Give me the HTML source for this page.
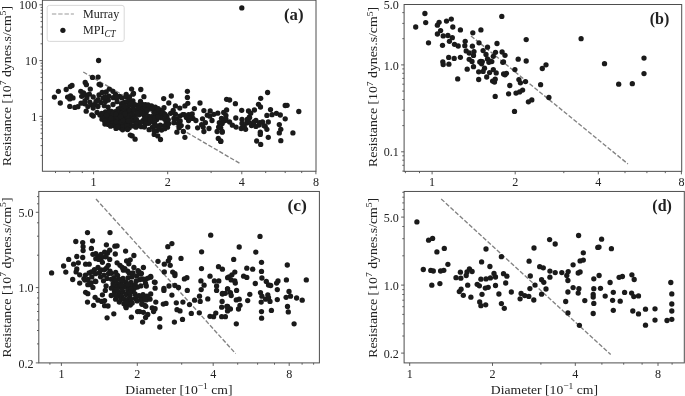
<!DOCTYPE html><html><head><meta charset="utf-8"><title>Resistance vs diameter</title>
<style>html,body{margin:0;padding:0;background:#fff}svg{display:block}text{font-family:"Liberation Serif",serif;fill:#222}</style></head><body>
<svg width="685" height="396" viewBox="0 0 685 396">
<rect width="685" height="396" fill="#fff"/>
<g id="panel-a">
<line x1="83.3" y1="72.0" x2="240.2" y2="163.6" stroke="#828282" stroke-width="1.35" stroke-dasharray="4.4,1.9"/>
<g fill="#1a1a1a"><circle cx="249.6" cy="117.6" r="2.65"/><circle cx="246.7" cy="122.9" r="2.65"/><circle cx="258.9" cy="125.1" r="2.65"/><circle cx="243.8" cy="126.5" r="2.65"/><circle cx="265.2" cy="126.3" r="2.65"/><circle cx="253.9" cy="122.0" r="2.65"/><circle cx="247.2" cy="119.5" r="2.65"/><circle cx="241.8" cy="7.9" r="2.65"/><circle cx="98.6" cy="60.5" r="2.65"/><circle cx="54.4" cy="97.1" r="2.65"/><circle cx="58.4" cy="91.3" r="2.65"/><circle cx="60.3" cy="103.0" r="2.65"/><circle cx="66.2" cy="89.5" r="2.65"/><circle cx="70.3" cy="86.6" r="2.65"/><circle cx="72.0" cy="85.4" r="2.65"/><circle cx="67.6" cy="97.1" r="2.65"/><circle cx="70.5" cy="96.0" r="2.65"/><circle cx="73.0" cy="97.9" r="2.65"/><circle cx="69.8" cy="98.9" r="2.65"/><circle cx="69.8" cy="106.4" r="2.65"/><circle cx="74.9" cy="107.4" r="2.65"/><circle cx="77.9" cy="106.7" r="2.65"/><circle cx="80.8" cy="91.3" r="2.65"/><circle cx="85.2" cy="82.5" r="2.65"/><circle cx="86.4" cy="84.7" r="2.65"/><circle cx="90.3" cy="89.1" r="2.65"/><circle cx="92.5" cy="77.4" r="2.65"/><circle cx="98.1" cy="77.1" r="2.65"/><circle cx="99.1" cy="84.3" r="2.65"/><circle cx="100.6" cy="85.1" r="2.65"/><circle cx="109.3" cy="89.1" r="2.65"/><circle cx="113.0" cy="91.3" r="2.65"/><circle cx="131.6" cy="89.1" r="2.65"/><circle cx="140.8" cy="89.5" r="2.65"/><circle cx="133.5" cy="93.5" r="2.65"/><circle cx="126.2" cy="94.5" r="2.65"/><circle cx="119.6" cy="96.4" r="2.65"/><circle cx="121.8" cy="97.9" r="2.65"/><circle cx="132.9" cy="94.2" r="2.65"/><circle cx="143.9" cy="96.7" r="2.65"/><circle cx="140.5" cy="101.5" r="2.65"/><circle cx="132.9" cy="100.8" r="2.65"/><circle cx="163.7" cy="98.6" r="2.65"/><circle cx="171.3" cy="96.0" r="2.65"/><circle cx="168.8" cy="103.0" r="2.65"/><circle cx="164.0" cy="107.7" r="2.65"/><circle cx="187.4" cy="91.3" r="2.65"/><circle cx="187.4" cy="97.4" r="2.65"/><circle cx="187.8" cy="103.3" r="2.65"/><circle cx="184.9" cy="105.9" r="2.65"/><circle cx="200.0" cy="103.0" r="2.65"/><circle cx="194.4" cy="108.6" r="2.65"/><circle cx="203.9" cy="110.6" r="2.65"/><circle cx="210.2" cy="111.0" r="2.65"/><circle cx="226.6" cy="99.3" r="2.65"/><circle cx="229.6" cy="100.0" r="2.65"/><circle cx="226.6" cy="110.0" r="2.65"/><circle cx="223.7" cy="112.5" r="2.65"/><circle cx="217.8" cy="113.2" r="2.65"/><circle cx="175.4" cy="105.9" r="2.65"/><circle cx="179.8" cy="108.1" r="2.65"/><circle cx="173.2" cy="110.3" r="2.65"/><circle cx="175.4" cy="114.2" r="2.65"/><circle cx="182.7" cy="114.7" r="2.65"/><circle cx="188.6" cy="114.7" r="2.65"/><circle cx="192.2" cy="114.0" r="2.65"/><circle cx="173.9" cy="118.4" r="2.65"/><circle cx="193.0" cy="118.4" r="2.65"/><circle cx="202.5" cy="118.8" r="2.65"/><circle cx="209.8" cy="116.2" r="2.65"/><circle cx="213.8" cy="114.3" r="2.65"/><circle cx="225.9" cy="115.4" r="2.65"/><circle cx="212.0" cy="120.5" r="2.65"/><circle cx="205.4" cy="122.7" r="2.65"/><circle cx="203.2" cy="127.1" r="2.65"/><circle cx="197.6" cy="127.8" r="2.65"/><circle cx="209.0" cy="128.5" r="2.65"/><circle cx="203.9" cy="131.5" r="2.65"/><circle cx="195.9" cy="120.5" r="2.65"/><circle cx="191.5" cy="114.6" r="2.65"/><circle cx="188.6" cy="120.5" r="2.65"/><circle cx="187.8" cy="127.1" r="2.65"/><circle cx="183.4" cy="131.5" r="2.65"/><circle cx="184.9" cy="137.3" r="2.65"/><circle cx="176.9" cy="132.2" r="2.65"/><circle cx="173.9" cy="122.7" r="2.65"/><circle cx="178.3" cy="123.4" r="2.65"/><circle cx="181.2" cy="125.6" r="2.65"/><circle cx="179.0" cy="127.8" r="2.65"/><circle cx="176.9" cy="119.0" r="2.65"/><circle cx="179.8" cy="116.1" r="2.65"/><circle cx="184.2" cy="114.6" r="2.65"/><circle cx="186.4" cy="117.6" r="2.65"/><circle cx="221.5" cy="118.3" r="2.65"/><circle cx="225.2" cy="120.5" r="2.65"/><circle cx="219.3" cy="122.7" r="2.65"/><circle cx="218.6" cy="127.1" r="2.65"/><circle cx="217.1" cy="131.5" r="2.65"/><circle cx="222.2" cy="131.5" r="2.65"/><circle cx="218.3" cy="138.4" r="2.65"/><circle cx="220.8" cy="141.4" r="2.65"/><circle cx="229.6" cy="122.0" r="2.65"/><circle cx="132.2" cy="135.9" r="2.65"/><circle cx="135.1" cy="139.2" r="2.65"/><circle cx="154.2" cy="134.4" r="2.65"/><circle cx="157.8" cy="135.9" r="2.65"/><circle cx="160.5" cy="139.5" r="2.65"/><circle cx="130.3" cy="135.1" r="2.65"/><circle cx="235.4" cy="103.7" r="2.65"/><circle cx="267.6" cy="92.5" r="2.65"/><circle cx="260.7" cy="98.3" r="2.65"/><circle cx="258.5" cy="104.3" r="2.65"/><circle cx="260.5" cy="107.0" r="2.65"/><circle cx="285.2" cy="105.5" r="2.65"/><circle cx="287.1" cy="105.3" r="2.65"/><circle cx="298.8" cy="111.5" r="2.65"/><circle cx="270.5" cy="109.6" r="2.65"/><circle cx="254.4" cy="110.0" r="2.65"/><circle cx="248.5" cy="111.0" r="2.65"/><circle cx="250.7" cy="113.2" r="2.65"/><circle cx="241.7" cy="110.3" r="2.65"/><circle cx="266.9" cy="115.4" r="2.65"/><circle cx="272.0" cy="114.7" r="2.65"/><circle cx="276.4" cy="113.3" r="2.65"/><circle cx="280.3" cy="115.0" r="2.65"/><circle cx="285.2" cy="118.8" r="2.65"/><circle cx="235.8" cy="118.0" r="2.65"/><circle cx="249.3" cy="117.2" r="2.65"/><circle cx="225.9" cy="119.0" r="2.65"/><circle cx="222.9" cy="121.2" r="2.65"/><circle cx="242.0" cy="119.5" r="2.65"/><circle cx="242.0" cy="123.4" r="2.65"/><circle cx="248.5" cy="122.0" r="2.65"/><circle cx="255.9" cy="120.5" r="2.65"/><circle cx="259.5" cy="122.7" r="2.65"/><circle cx="268.3" cy="122.0" r="2.65"/><circle cx="262.5" cy="122.0" r="2.65"/><circle cx="263.9" cy="125.6" r="2.65"/><circle cx="266.9" cy="129.3" r="2.65"/><circle cx="279.3" cy="124.6" r="2.65"/><circle cx="280.8" cy="129.3" r="2.65"/><circle cx="279.3" cy="132.9" r="2.65"/><circle cx="292.9" cy="132.9" r="2.65"/><circle cx="280.8" cy="140.7" r="2.65"/><circle cx="268.3" cy="137.3" r="2.65"/><circle cx="256.6" cy="141.0" r="2.65"/><circle cx="260.7" cy="144.4" r="2.65"/><circle cx="260.3" cy="132.2" r="2.65"/><circle cx="260.3" cy="134.4" r="2.65"/><circle cx="232.4" cy="125.2" r="2.65"/><circle cx="236.1" cy="127.1" r="2.65"/><circle cx="241.2" cy="128.5" r="2.65"/><circle cx="245.6" cy="129.3" r="2.65"/><circle cx="244.2" cy="126.4" r="2.65"/><circle cx="251.5" cy="125.6" r="2.65"/><circle cx="255.9" cy="126.4" r="2.65"/><circle cx="253.0" cy="123.4" r="2.65"/><circle cx="222.2" cy="132.2" r="2.65"/><circle cx="220.7" cy="127.8" r="2.65"/><circle cx="220.7" cy="141.0" r="2.65"/><circle cx="222.2" cy="123.4" r="2.65"/><circle cx="180.2" cy="120.9" r="2.65"/><circle cx="190.3" cy="118.4" r="2.65"/><circle cx="207.3" cy="115.2" r="2.65"/><circle cx="201.6" cy="124.7" r="2.65"/><circle cx="166.9" cy="116.5" r="2.65"/><circle cx="166.3" cy="122.2" r="2.65"/><circle cx="167.5" cy="127.2" r="2.65"/><circle cx="170.7" cy="113.3" r="2.65"/><circle cx="86.2" cy="111.2" r="2.65"/><circle cx="91.8" cy="114.8" r="2.65"/><circle cx="93.3" cy="116.1" r="2.65"/><circle cx="102.0" cy="119.2" r="2.65"/><circle cx="104.9" cy="124.1" r="2.65"/><circle cx="83.5" cy="92.9" r="2.65"/><circle cx="85.6" cy="94.8" r="2.65"/><circle cx="81.7" cy="96.3" r="2.65"/><circle cx="84.9" cy="101.0" r="2.65"/><circle cx="81.0" cy="103.2" r="2.65"/><circle cx="84.7" cy="103.8" r="2.65"/><circle cx="87.9" cy="106.6" r="2.65"/><circle cx="86.9" cy="97.7" r="2.65"/><circle cx="89.3" cy="94.2" r="2.65"/><circle cx="93.2" cy="97.0" r="2.65"/><circle cx="91.7" cy="104.8" r="2.65"/><circle cx="94.9" cy="104.4" r="2.65"/><circle cx="93.2" cy="108.0" r="2.65"/><circle cx="97.9" cy="106.5" r="2.65"/><circle cx="97.1" cy="112.5" r="2.65"/><circle cx="99.0" cy="95.0" r="2.65"/><circle cx="102.2" cy="92.5" r="2.65"/><circle cx="106.2" cy="91.9" r="2.65"/><circle cx="103.1" cy="97.9" r="2.65"/><circle cx="105.4" cy="101.4" r="2.65"/><circle cx="100.7" cy="102.5" r="2.65"/><circle cx="104.3" cy="105.7" r="2.65"/><circle cx="108.2" cy="107.1" r="2.65"/><circle cx="108.9" cy="96.1" r="2.65"/><circle cx="113.2" cy="97.7" r="2.65"/><circle cx="108.3" cy="100.0" r="2.65"/><circle cx="113.0" cy="104.5" r="2.65"/><circle cx="115.5" cy="94.4" r="2.65"/><circle cx="117.1" cy="101.7" r="2.65"/><circle cx="121.5" cy="103.6" r="2.65"/><circle cx="124.3" cy="102.3" r="2.65"/><circle cx="127.0" cy="101.8" r="2.65"/><circle cx="128.5" cy="105.9" r="2.65"/><circle cx="118.2" cy="108.8" r="2.65"/><circle cx="121.6" cy="110.2" r="2.65"/><circle cx="126.1" cy="108.9" r="2.65"/><circle cx="115.3" cy="111.7" r="2.65"/><circle cx="111.3" cy="111.5" r="2.65"/><circle cx="108.6" cy="113.5" r="2.65"/><circle cx="104.1" cy="114.6" r="2.65"/><circle cx="99.9" cy="115.1" r="2.65"/><circle cx="107.8" cy="117.3" r="2.65"/><circle cx="110.9" cy="115.8" r="2.65"/><circle cx="114.3" cy="116.1" r="2.65"/><circle cx="118.4" cy="115.1" r="2.65"/><circle cx="122.9" cy="115.4" r="2.65"/><circle cx="127.6" cy="113.3" r="2.65"/><circle cx="110.2" cy="122.0" r="2.65"/><circle cx="113.4" cy="120.3" r="2.65"/><circle cx="118.4" cy="120.3" r="2.65"/><circle cx="121.1" cy="119.3" r="2.65"/><circle cx="125.7" cy="119.4" r="2.65"/><circle cx="128.6" cy="118.3" r="2.65"/><circle cx="112.9" cy="125.4" r="2.65"/><circle cx="116.0" cy="124.1" r="2.65"/><circle cx="119.2" cy="124.8" r="2.65"/><circle cx="123.3" cy="123.9" r="2.65"/><circle cx="127.1" cy="123.0" r="2.65"/><circle cx="108.2" cy="124.4" r="2.65"/><circle cx="116.0" cy="128.4" r="2.65"/><circle cx="120.3" cy="128.0" r="2.65"/><circle cx="125.6" cy="127.9" r="2.65"/><circle cx="129.7" cy="110.1" r="2.65"/><circle cx="130.2" cy="125.0" r="2.65"/><circle cx="126.2" cy="97.1" r="2.65"/><circle cx="98.1" cy="99.6" r="2.65"/><circle cx="105.3" cy="96.6" r="2.65"/><circle cx="116.7" cy="97.9" r="2.65"/><circle cx="96.0" cy="101.4" r="2.65"/><circle cx="89.8" cy="102.1" r="2.65"/><circle cx="133.5" cy="125.9" r="2.65"/><circle cx="154.7" cy="123.7" r="2.65"/><circle cx="146.3" cy="121.2" r="2.65"/><circle cx="136.9" cy="110.1" r="2.65"/><circle cx="146.0" cy="112.8" r="2.65"/><circle cx="162.3" cy="115.1" r="2.65"/><circle cx="133.0" cy="106.8" r="2.65"/><circle cx="164.2" cy="125.8" r="2.65"/><circle cx="148.7" cy="116.3" r="2.65"/><circle cx="135.1" cy="114.8" r="2.65"/><circle cx="156.8" cy="119.5" r="2.65"/><circle cx="143.4" cy="110.7" r="2.65"/><circle cx="148.8" cy="123.3" r="2.65"/><circle cx="159.6" cy="114.5" r="2.65"/><circle cx="149.1" cy="129.7" r="2.65"/><circle cx="139.0" cy="114.8" r="2.65"/><circle cx="142.6" cy="107.3" r="2.65"/><circle cx="138.5" cy="125.6" r="2.65"/><circle cx="132.5" cy="117.6" r="2.65"/><circle cx="134.9" cy="104.6" r="2.65"/><circle cx="157.2" cy="111.3" r="2.65"/><circle cx="134.0" cy="121.1" r="2.65"/><circle cx="155.8" cy="114.7" r="2.65"/><circle cx="144.2" cy="115.8" r="2.65"/><circle cx="161.6" cy="130.1" r="2.65"/><circle cx="136.4" cy="119.4" r="2.65"/><circle cx="141.3" cy="126.7" r="2.65"/><circle cx="160.3" cy="125.2" r="2.65"/><circle cx="137.9" cy="122.0" r="2.65"/><circle cx="151.7" cy="116.6" r="2.65"/><circle cx="132.4" cy="113.5" r="2.65"/><circle cx="154.5" cy="109.9" r="2.65"/><circle cx="156.4" cy="125.9" r="2.65"/><circle cx="143.2" cy="120.4" r="2.65"/><circle cx="142.3" cy="113.6" r="2.65"/><circle cx="161.1" cy="117.8" r="2.65"/><circle cx="160.9" cy="110.5" r="2.65"/><circle cx="151.5" cy="106.0" r="2.65"/><circle cx="148.6" cy="107.7" r="2.65"/><circle cx="140.5" cy="109.3" r="2.65"/><circle cx="152.5" cy="127.1" r="2.65"/><circle cx="152.0" cy="121.7" r="2.65"/><circle cx="154.3" cy="118.5" r="2.65"/><circle cx="142.3" cy="104.3" r="2.65"/><circle cx="145.3" cy="107.6" r="2.65"/><circle cx="129.3" cy="127.8" r="2.65"/><circle cx="144.4" cy="127.1" r="2.65"/><circle cx="129.5" cy="96.8" r="2.65"/><circle cx="153.9" cy="130.4" r="2.65"/><circle cx="164.7" cy="119.3" r="2.65"/><circle cx="164.8" cy="128.7" r="2.65"/><circle cx="138.9" cy="104.8" r="2.65"/><circle cx="134.1" cy="109.8" r="2.65"/><circle cx="131.2" cy="121.3" r="2.65"/><circle cx="129.3" cy="99.6" r="2.65"/><circle cx="157.1" cy="130.6" r="2.65"/><circle cx="145.5" cy="123.9" r="2.65"/><circle cx="136.1" cy="124.2" r="2.65"/><circle cx="131.0" cy="103.4" r="2.65"/><circle cx="145.3" cy="104.6" r="2.65"/><circle cx="140.9" cy="122.2" r="2.65"/><circle cx="145.9" cy="118.3" r="2.65"/><circle cx="155.3" cy="107.2" r="2.65"/><circle cx="139.8" cy="112.0" r="2.65"/><circle cx="150.1" cy="119.4" r="2.65"/><circle cx="129.8" cy="115.0" r="2.65"/><circle cx="168.6" cy="123.7" r="2.65"/><circle cx="159.3" cy="127.8" r="2.65"/><circle cx="137.9" cy="107.6" r="2.65"/><circle cx="163.1" cy="112.3" r="2.65"/><circle cx="147.3" cy="110.3" r="2.65"/><circle cx="168.3" cy="119.8" r="2.65"/><circle cx="135.9" cy="127.2" r="2.65"/><circle cx="148.1" cy="105.0" r="2.65"/><circle cx="165.2" cy="114.4" r="2.65"/><circle cx="154.0" cy="112.6" r="2.65"/><circle cx="157.9" cy="116.8" r="2.65"/><circle cx="152.0" cy="108.8" r="2.65"/><circle cx="158.2" cy="108.7" r="2.65"/><circle cx="137.1" cy="112.9" r="2.65"/><circle cx="125.1" cy="116.9" r="2.65"/><circle cx="118.8" cy="112.5" r="2.65"/><circle cx="121.6" cy="113.3" r="2.65"/><circle cx="124.1" cy="111.0" r="2.65"/><circle cx="120.9" cy="107.5" r="2.65"/><circle cx="105.5" cy="112.0" r="2.65"/><circle cx="107.5" cy="120.4" r="2.65"/><circle cx="113.3" cy="123.0" r="2.65"/><circle cx="121.5" cy="122.0" r="2.65"/><circle cx="110.6" cy="126.2" r="2.65"/><circle cx="115.8" cy="119.2" r="2.65"/><circle cx="104.8" cy="117.4" r="2.65"/><circle cx="111.1" cy="118.2" r="2.65"/><circle cx="123.5" cy="108.6" r="2.65"/><circle cx="104.6" cy="121.1" r="2.65"/><circle cx="122.8" cy="126.8" r="2.65"/><circle cx="108.9" cy="111.1" r="2.65"/><circle cx="113.0" cy="113.5" r="2.65"/><circle cx="127.4" cy="116.0" r="2.65"/><circle cx="122.6" cy="129.8" r="2.65"/><circle cx="126.8" cy="125.7" r="2.65"/><circle cx="125.0" cy="106.4" r="2.65"/><circle cx="116.3" cy="121.7" r="2.65"/><circle cx="117.5" cy="117.4" r="2.65"/><circle cx="115.7" cy="114.1" r="2.65"/><circle cx="102.4" cy="116.4" r="2.65"/><circle cx="123.4" cy="120.4" r="2.65"/><circle cx="128.4" cy="120.9" r="2.65"/><circle cx="125.0" cy="114.0" r="2.65"/><circle cx="120.6" cy="116.4" r="2.65"/><circle cx="117.7" cy="126.7" r="2.65"/><circle cx="101.8" cy="113.5" r="2.65"/><circle cx="106.5" cy="115.0" r="2.65"/><circle cx="127.5" cy="129.5" r="2.65"/></g>
<rect x="42.4" y="0.2" width="273.60" height="171.05" fill="none" stroke="#4e4e4e" stroke-width="1.0"/>
<path d="M55.5 171.25v1.8 M69.7 171.25v1.8 M82.3 171.25v1.8 M93.6 171.25v3.0 M167.7 171.25v3.0 M211.1 171.25v1.8 M241.8 171.25v3.0 M265.7 171.25v1.8 M285.2 171.25v1.8 M301.7 171.25v1.8 M315.9 171.25v3.0 M42.4 155.4h-1.8 M42.4 145.6h-1.8 M42.4 138.6h-1.8 M42.4 133.2h-1.8 M42.4 128.8h-1.8 M42.4 125.0h-1.8 M42.4 121.8h-1.8 M42.4 119.0h-1.8 M42.4 116.4h-3.0 M42.4 99.6h-1.8 M42.4 89.8h-1.8 M42.4 82.8h-1.8 M42.4 77.4h-1.8 M42.4 73.0h-1.8 M42.4 69.2h-1.8 M42.4 66.0h-1.8 M42.4 63.2h-1.8 M42.4 60.6h-3.0 M42.4 43.8h-1.8 M42.4 34.0h-1.8 M42.4 27.0h-1.8 M42.4 21.6h-1.8 M42.4 17.2h-1.8 M42.4 13.4h-1.8 M42.4 10.2h-1.8 M42.4 7.4h-1.8 M42.4 4.8h-3.0" stroke="#4e4e4e" stroke-width="0.9" fill="none"/>
<text transform="translate(93.6,186.2) scale(1,1.1)" font-size="12.1" text-anchor="middle" >1</text>
<text transform="translate(167.7,186.2) scale(1,1.1)" font-size="12.1" text-anchor="middle" >2</text>
<text transform="translate(241.8,186.2) scale(1,1.1)" font-size="12.1" text-anchor="middle" >4</text>
<text transform="translate(315.9,186.2) scale(1,1.1)" font-size="12.1" text-anchor="middle" >8</text>
<text transform="translate(37.2,9.4) scale(1,1.1)" font-size="12.1" text-anchor="end" >100</text>
<text transform="translate(37.2,65.2) scale(1,1.1)" font-size="12.1" text-anchor="end" >10</text>
<text transform="translate(37.2,121.0) scale(1,1.1)" font-size="12.1" text-anchor="end" >1</text>
<text transform="translate(303.6,20.1) scale(1,1.1)" font-size="14.8" text-anchor="end" font-weight="bold" textLength="19.6" lengthAdjust="spacingAndGlyphs">(a)</text>
</g>
<g id="panel-b">
<line x1="471.0" y1="35.9" x2="627.9" y2="163.9" stroke="#828282" stroke-width="1.35" stroke-dasharray="4.4,1.9"/>
<g fill="#1a1a1a"><circle cx="424.9" cy="13.5" r="2.65"/><circle cx="425.7" cy="22.6" r="2.65"/><circle cx="415.7" cy="27.0" r="2.65"/><circle cx="428.5" cy="42.8" r="2.65"/><circle cx="439.1" cy="22.3" r="2.65"/><circle cx="437.4" cy="25.2" r="2.65"/><circle cx="446.5" cy="21.1" r="2.65"/><circle cx="451.3" cy="19.1" r="2.65"/><circle cx="452.8" cy="27.0" r="2.65"/><circle cx="460.4" cy="29.9" r="2.65"/><circle cx="440.6" cy="30.6" r="2.65"/><circle cx="437.4" cy="34.0" r="2.65"/><circle cx="443.2" cy="35.9" r="2.65"/><circle cx="447.9" cy="35.5" r="2.65"/><circle cx="452.3" cy="37.7" r="2.65"/><circle cx="449.4" cy="41.3" r="2.65"/><circle cx="442.5" cy="45.3" r="2.65"/><circle cx="454.5" cy="44.3" r="2.65"/><circle cx="458.2" cy="46.0" r="2.65"/><circle cx="465.2" cy="41.3" r="2.65"/><circle cx="464.8" cy="45.7" r="2.65"/><circle cx="466.2" cy="50.9" r="2.65"/><circle cx="469.2" cy="53.0" r="2.65"/><circle cx="474.0" cy="51.6" r="2.65"/><circle cx="473.5" cy="55.4" r="2.65"/><circle cx="472.4" cy="46.2" r="2.65"/><circle cx="472.8" cy="32.8" r="2.65"/><circle cx="480.9" cy="29.9" r="2.65"/><circle cx="479.0" cy="42.8" r="2.65"/><circle cx="487.5" cy="47.2" r="2.65"/><circle cx="483.1" cy="50.6" r="2.65"/><circle cx="486.0" cy="54.5" r="2.65"/><circle cx="487.5" cy="58.9" r="2.65"/><circle cx="497.0" cy="43.5" r="2.65"/><circle cx="501.8" cy="16.4" r="2.65"/><circle cx="495.5" cy="52.3" r="2.65"/><circle cx="493.3" cy="56.3" r="2.65"/><circle cx="502.1" cy="52.0" r="2.65"/><circle cx="505.0" cy="55.3" r="2.65"/><circle cx="448.7" cy="57.4" r="2.65"/><circle cx="454.2" cy="58.4" r="2.65"/><circle cx="460.4" cy="57.3" r="2.65"/><circle cx="469.2" cy="59.3" r="2.65"/><circle cx="472.0" cy="61.4" r="2.65"/><circle cx="480.9" cy="61.3" r="2.65"/><circle cx="442.8" cy="61.8" r="2.65"/><circle cx="490.4" cy="61.1" r="2.65"/><circle cx="443.2" cy="64.5" r="2.65"/><circle cx="448.9" cy="64.2" r="2.65"/><circle cx="467.2" cy="69.2" r="2.65"/><circle cx="473.5" cy="66.7" r="2.65"/><circle cx="479.8" cy="62.0" r="2.65"/><circle cx="482.3" cy="61.6" r="2.65"/><circle cx="481.6" cy="63.8" r="2.65"/><circle cx="488.9" cy="62.3" r="2.65"/><circle cx="491.8" cy="61.6" r="2.65"/><circle cx="502.8" cy="62.3" r="2.65"/><circle cx="484.5" cy="68.2" r="2.65"/><circle cx="478.7" cy="71.8" r="2.65"/><circle cx="483.1" cy="71.4" r="2.65"/><circle cx="493.3" cy="69.6" r="2.65"/><circle cx="489.6" cy="72.6" r="2.65"/><circle cx="496.2" cy="72.9" r="2.65"/><circle cx="486.7" cy="77.0" r="2.65"/><circle cx="478.7" cy="79.5" r="2.65"/><circle cx="457.7" cy="78.9" r="2.65"/><circle cx="492.6" cy="81.1" r="2.65"/><circle cx="495.2" cy="79.2" r="2.65"/><circle cx="494.5" cy="82.1" r="2.65"/><circle cx="495.2" cy="96.4" r="2.65"/><circle cx="503.6" cy="74.0" r="2.65"/><circle cx="526.2" cy="39.6" r="2.65"/><circle cx="581.1" cy="38.7" r="2.65"/><circle cx="518.2" cy="59.2" r="2.65"/><circle cx="526.2" cy="61.0" r="2.65"/><circle cx="503.5" cy="61.8" r="2.65"/><circle cx="546.0" cy="64.8" r="2.65"/><circle cx="542.3" cy="68.5" r="2.65"/><circle cx="514.9" cy="69.6" r="2.65"/><circle cx="506.4" cy="73.3" r="2.65"/><circle cx="505.0" cy="74.8" r="2.65"/><circle cx="518.9" cy="79.6" r="2.65"/><circle cx="520.4" cy="82.8" r="2.65"/><circle cx="525.5" cy="81.6" r="2.65"/><circle cx="509.8" cy="85.5" r="2.65"/><circle cx="540.6" cy="84.7" r="2.65"/><circle cx="522.6" cy="90.1" r="2.65"/><circle cx="519.6" cy="91.9" r="2.65"/><circle cx="516.0" cy="93.1" r="2.65"/><circle cx="508.6" cy="93.8" r="2.65"/><circle cx="548.9" cy="97.5" r="2.65"/><circle cx="531.8" cy="99.9" r="2.65"/><circle cx="528.4" cy="101.8" r="2.65"/><circle cx="514.5" cy="111.4" r="2.65"/><circle cx="604.5" cy="63.7" r="2.65"/><circle cx="644.0" cy="58.1" r="2.65"/><circle cx="644.0" cy="73.6" r="2.65"/><circle cx="618.7" cy="84.2" r="2.65"/><circle cx="632.3" cy="83.7" r="2.65"/></g>
<rect x="404.1" y="4.5" width="277.60" height="166.85" fill="none" stroke="#4e4e4e" stroke-width="1.0"/>
<path d="M405.4 171.35v1.8 M419.5 171.35v1.8 M432.1 171.35v3.0 M515.2 171.35v3.0 M563.8 171.35v1.8 M598.3 171.35v3.0 M625.0 171.35v1.8 M646.9 171.35v1.8 M665.3 171.35v1.8 M681.4 171.35v3.0 M404.1 171.1h-1.8 M404.1 165.3h-1.8 M404.1 160.2h-1.8 M404.1 155.8h-1.8 M404.1 151.8h-3.0 M404.1 125.6h-1.8 M404.1 110.3h-1.8 M404.1 99.5h-1.8 M404.1 91.1h-1.8 M404.1 84.2h-1.8 M404.1 78.4h-1.8 M404.1 73.3h-1.8 M404.1 68.9h-1.8 M404.1 64.9h-3.0 M404.1 38.7h-1.8 M404.1 23.4h-1.8 M404.1 12.6h-1.8" stroke="#4e4e4e" stroke-width="0.9" fill="none"/>
<text transform="translate(432.1,186.2) scale(1,1.1)" font-size="12.1" text-anchor="middle" >1</text>
<text transform="translate(515.2,186.2) scale(1,1.1)" font-size="12.1" text-anchor="middle" >2</text>
<text transform="translate(598.3,186.2) scale(1,1.1)" font-size="12.1" text-anchor="middle" >4</text>
<text transform="translate(681.4,186.2) scale(1,1.1)" font-size="12.1" text-anchor="middle" >8</text>
<text transform="translate(398.9,8.8) scale(1,1.1)" font-size="12.1" text-anchor="end" >5.0</text>
<text transform="translate(398.9,69.5) scale(1,1.1)" font-size="12.1" text-anchor="end" >1.0</text>
<text transform="translate(398.9,156.4) scale(1,1.1)" font-size="12.1" text-anchor="end" >0.1</text>
<text transform="translate(669.3,24.4) scale(1,1.1)" font-size="14.8" text-anchor="end" font-weight="bold" textLength="19.6" lengthAdjust="spacingAndGlyphs">(b)</text>
</g>
<g id="panel-c">
<line x1="96.0" y1="199.0" x2="235.6" y2="353.6" stroke="#828282" stroke-width="1.35" stroke-dasharray="4.4,1.9"/>
<g fill="#1a1a1a"><circle cx="98.3" cy="256.4" r="2.65"/><circle cx="105.3" cy="256.8" r="2.65"/><circle cx="101.5" cy="257.8" r="2.65"/><circle cx="107.6" cy="253.0" r="2.65"/><circle cx="87.5" cy="232.6" r="2.65"/><circle cx="110.0" cy="232.6" r="2.65"/><circle cx="75.8" cy="241.5" r="2.65"/><circle cx="82.7" cy="242.6" r="2.65"/><circle cx="92.5" cy="240.8" r="2.65"/><circle cx="83.1" cy="246.7" r="2.65"/><circle cx="83.1" cy="250.6" r="2.65"/><circle cx="91.4" cy="248.4" r="2.65"/><circle cx="106.4" cy="244.8" r="2.65"/><circle cx="114.9" cy="246.2" r="2.65"/><circle cx="117.1" cy="245.8" r="2.65"/><circle cx="109.7" cy="250.2" r="2.65"/><circle cx="104.6" cy="252.1" r="2.65"/><circle cx="125.6" cy="251.1" r="2.65"/><circle cx="115.3" cy="254.0" r="2.65"/><circle cx="133.9" cy="255.5" r="2.65"/><circle cx="92.9" cy="254.3" r="2.65"/><circle cx="95.8" cy="253.6" r="2.65"/><circle cx="101.0" cy="254.3" r="2.65"/><circle cx="106.1" cy="256.5" r="2.65"/><circle cx="109.7" cy="259.4" r="2.65"/><circle cx="95.8" cy="258.7" r="2.65"/><circle cx="98.8" cy="259.4" r="2.65"/><circle cx="102.4" cy="262.3" r="2.65"/><circle cx="76.8" cy="256.5" r="2.65"/><circle cx="82.7" cy="257.5" r="2.65"/><circle cx="68.7" cy="259.4" r="2.65"/><circle cx="78.3" cy="262.8" r="2.65"/><circle cx="73.6" cy="264.2" r="2.65"/><circle cx="85.6" cy="264.2" r="2.65"/><circle cx="89.2" cy="264.2" r="2.65"/><circle cx="63.6" cy="266.0" r="2.65"/><circle cx="65.8" cy="272.1" r="2.65"/><circle cx="51.6" cy="272.9" r="2.65"/><circle cx="76.8" cy="268.9" r="2.65"/><circle cx="76.1" cy="271.9" r="2.65"/><circle cx="79.7" cy="274.8" r="2.65"/><circle cx="72.7" cy="279.5" r="2.65"/><circle cx="126.6" cy="260.9" r="2.65"/><circle cx="130.2" cy="259.8" r="2.65"/><circle cx="128.8" cy="263.8" r="2.65"/><circle cx="133.9" cy="267.5" r="2.65"/><circle cx="117.1" cy="262.8" r="2.65"/><circle cx="120.0" cy="265.3" r="2.65"/><circle cx="122.2" cy="267.5" r="2.65"/><circle cx="108.3" cy="265.3" r="2.65"/><circle cx="98.0" cy="267.5" r="2.65"/><circle cx="94.4" cy="269.7" r="2.65"/><circle cx="91.4" cy="271.9" r="2.65"/><circle cx="79.7" cy="283.1" r="2.65"/><circle cx="84.9" cy="280.1" r="2.65"/><circle cx="90.0" cy="284.5" r="2.65"/><circle cx="92.9" cy="287.4" r="2.65"/><circle cx="95.8" cy="281.6" r="2.65"/><circle cx="85.6" cy="292.3" r="2.65"/><circle cx="87.8" cy="293.7" r="2.65"/><circle cx="87.5" cy="302.1" r="2.65"/><circle cx="93.6" cy="305.3" r="2.65"/><circle cx="95.1" cy="297.3" r="2.65"/><circle cx="98.0" cy="300.2" r="2.65"/><circle cx="101.7" cy="301.4" r="2.65"/><circle cx="104.6" cy="300.6" r="2.65"/><circle cx="104.6" cy="305.7" r="2.65"/><circle cx="108.0" cy="306.0" r="2.65"/><circle cx="113.8" cy="313.8" r="2.65"/><circle cx="107.1" cy="317.8" r="2.65"/><circle cx="131.4" cy="317.2" r="2.65"/><circle cx="137.6" cy="311.6" r="2.65"/><circle cx="102.4" cy="294.8" r="2.65"/><circle cx="105.3" cy="290.4" r="2.65"/><circle cx="106.1" cy="286.0" r="2.65"/><circle cx="111.2" cy="295.5" r="2.65"/><circle cx="113.4" cy="285.2" r="2.65"/><circle cx="114.1" cy="288.2" r="2.65"/><circle cx="115.6" cy="299.2" r="2.65"/><circle cx="119.3" cy="302.1" r="2.65"/><circle cx="125.8" cy="306.5" r="2.65"/><circle cx="130.2" cy="304.3" r="2.65"/><circle cx="129.5" cy="298.4" r="2.65"/><circle cx="136.1" cy="298.4" r="2.65"/><circle cx="133.2" cy="291.1" r="2.65"/><circle cx="210.7" cy="235.2" r="2.65"/><circle cx="171.9" cy="243.6" r="2.65"/><circle cx="167.8" cy="246.7" r="2.65"/><circle cx="201.6" cy="251.8" r="2.65"/><circle cx="181.0" cy="258.4" r="2.65"/><circle cx="169.7" cy="257.9" r="2.65"/><circle cx="168.3" cy="260.9" r="2.65"/><circle cx="158.0" cy="261.3" r="2.65"/><circle cx="164.3" cy="264.2" r="2.65"/><circle cx="170.2" cy="265.3" r="2.65"/><circle cx="164.3" cy="271.9" r="2.65"/><circle cx="172.7" cy="272.1" r="2.65"/><circle cx="174.9" cy="273.6" r="2.65"/><circle cx="184.4" cy="278.9" r="2.65"/><circle cx="186.9" cy="277.7" r="2.65"/><circle cx="201.5" cy="268.6" r="2.65"/><circle cx="218.5" cy="266.7" r="2.65"/><circle cx="222.4" cy="269.2" r="2.65"/><circle cx="210.0" cy="276.2" r="2.65"/><circle cx="200.9" cy="280.9" r="2.65"/><circle cx="214.4" cy="280.9" r="2.65"/><circle cx="218.8" cy="280.9" r="2.65"/><circle cx="227.6" cy="277.7" r="2.65"/><circle cx="143.4" cy="267.5" r="2.65"/><circle cx="139.0" cy="271.9" r="2.65"/><circle cx="140.4" cy="274.0" r="2.65"/><circle cx="150.7" cy="276.5" r="2.65"/><circle cx="145.6" cy="279.2" r="2.65"/><circle cx="154.4" cy="282.1" r="2.65"/><circle cx="174.9" cy="275.5" r="2.65"/><circle cx="204.1" cy="285.2" r="2.65"/><circle cx="201.2" cy="289.6" r="2.65"/><circle cx="216.6" cy="286.0" r="2.65"/><circle cx="216.6" cy="290.4" r="2.65"/><circle cx="227.6" cy="288.9" r="2.65"/><circle cx="222.4" cy="294.0" r="2.65"/><circle cx="187.3" cy="290.4" r="2.65"/><circle cx="169.0" cy="286.0" r="2.65"/><circle cx="174.9" cy="285.5" r="2.65"/><circle cx="178.5" cy="287.4" r="2.65"/><circle cx="163.9" cy="288.5" r="2.65"/><circle cx="163.9" cy="290.4" r="2.65"/><circle cx="171.9" cy="295.1" r="2.65"/><circle cx="155.1" cy="282.3" r="2.65"/><circle cx="155.1" cy="288.2" r="2.65"/><circle cx="146.3" cy="286.0" r="2.65"/><circle cx="150.7" cy="294.0" r="2.65"/><circle cx="199.5" cy="296.2" r="2.65"/><circle cx="194.6" cy="300.2" r="2.65"/><circle cx="200.2" cy="301.4" r="2.65"/><circle cx="207.8" cy="298.9" r="2.65"/><circle cx="222.1" cy="301.4" r="2.65"/><circle cx="221.7" cy="307.2" r="2.65"/><circle cx="227.6" cy="306.5" r="2.65"/><circle cx="182.9" cy="302.1" r="2.65"/><circle cx="176.3" cy="302.8" r="2.65"/><circle cx="189.5" cy="304.6" r="2.65"/><circle cx="163.3" cy="304.1" r="2.65"/><circle cx="166.0" cy="303.4" r="2.65"/><circle cx="155.8" cy="302.1" r="2.65"/><circle cx="177.0" cy="309.7" r="2.65"/><circle cx="180.0" cy="310.9" r="2.65"/><circle cx="191.3" cy="313.4" r="2.65"/><circle cx="199.3" cy="312.8" r="2.65"/><circle cx="215.8" cy="313.1" r="2.65"/><circle cx="210.0" cy="316.3" r="2.65"/><circle cx="213.6" cy="316.7" r="2.65"/><circle cx="221.7" cy="316.7" r="2.65"/><circle cx="225.4" cy="316.7" r="2.65"/><circle cx="182.5" cy="319.4" r="2.65"/><circle cx="174.4" cy="322.1" r="2.65"/><circle cx="159.8" cy="318.6" r="2.65"/><circle cx="159.8" cy="327.0" r="2.65"/><circle cx="142.6" cy="322.1" r="2.65"/><circle cx="139.7" cy="311.6" r="2.65"/><circle cx="143.4" cy="312.3" r="2.65"/><circle cx="147.8" cy="314.5" r="2.65"/><circle cx="145.6" cy="317.5" r="2.65"/><circle cx="152.2" cy="307.9" r="2.65"/><circle cx="155.1" cy="308.7" r="2.65"/><circle cx="153.6" cy="311.6" r="2.65"/><circle cx="141.9" cy="304.3" r="2.65"/><circle cx="144.8" cy="305.3" r="2.65"/><circle cx="135.3" cy="298.4" r="2.65"/><circle cx="130.2" cy="299.2" r="2.65"/><circle cx="130.2" cy="305.0" r="2.65"/><circle cx="142.6" cy="297.0" r="2.65"/><circle cx="147.0" cy="296.2" r="2.65"/><circle cx="150.0" cy="299.2" r="2.65"/><circle cx="146.3" cy="299.9" r="2.65"/><circle cx="144.8" cy="280.1" r="2.65"/><circle cx="150.7" cy="277.2" r="2.65"/><circle cx="260.0" cy="236.4" r="2.65"/><circle cx="239.2" cy="247.0" r="2.65"/><circle cx="255.8" cy="252.1" r="2.65"/><circle cx="233.7" cy="259.4" r="2.65"/><circle cx="261.5" cy="262.3" r="2.65"/><circle cx="287.3" cy="265.0" r="2.65"/><circle cx="246.8" cy="268.2" r="2.65"/><circle cx="252.7" cy="269.2" r="2.65"/><circle cx="261.5" cy="271.4" r="2.65"/><circle cx="234.8" cy="272.1" r="2.65"/><circle cx="231.9" cy="274.8" r="2.65"/><circle cx="229.0" cy="277.0" r="2.65"/><circle cx="243.6" cy="276.2" r="2.65"/><circle cx="246.8" cy="277.4" r="2.65"/><circle cx="261.9" cy="278.0" r="2.65"/><circle cx="266.3" cy="281.4" r="2.65"/><circle cx="278.0" cy="280.9" r="2.65"/><circle cx="286.4" cy="279.9" r="2.65"/><circle cx="306.3" cy="279.9" r="2.65"/><circle cx="234.8" cy="280.9" r="2.65"/><circle cx="231.2" cy="279.9" r="2.65"/><circle cx="255.3" cy="283.5" r="2.65"/><circle cx="235.3" cy="283.1" r="2.65"/><circle cx="268.5" cy="285.0" r="2.65"/><circle cx="270.7" cy="285.5" r="2.65"/><circle cx="276.6" cy="283.1" r="2.65"/><circle cx="277.3" cy="289.6" r="2.65"/><circle cx="289.0" cy="291.4" r="2.65"/><circle cx="290.5" cy="296.2" r="2.65"/><circle cx="286.1" cy="297.3" r="2.65"/><circle cx="296.6" cy="298.0" r="2.65"/><circle cx="302.2" cy="300.2" r="2.65"/><circle cx="277.3" cy="299.6" r="2.65"/><circle cx="249.8" cy="294.3" r="2.65"/><circle cx="247.7" cy="300.6" r="2.65"/><circle cx="260.5" cy="292.6" r="2.65"/><circle cx="261.9" cy="296.2" r="2.65"/><circle cx="267.8" cy="294.8" r="2.65"/><circle cx="265.6" cy="299.2" r="2.65"/><circle cx="270.0" cy="301.4" r="2.65"/><circle cx="261.2" cy="302.1" r="2.65"/><circle cx="268.5" cy="297.7" r="2.65"/><circle cx="287.5" cy="306.5" r="2.65"/><circle cx="288.3" cy="311.9" r="2.65"/><circle cx="271.4" cy="310.4" r="2.65"/><circle cx="261.5" cy="311.6" r="2.65"/><circle cx="261.6" cy="318.2" r="2.65"/><circle cx="294.1" cy="323.8" r="2.65"/><circle cx="236.3" cy="323.8" r="2.65"/><circle cx="236.6" cy="290.4" r="2.65"/><circle cx="227.5" cy="288.9" r="2.65"/><circle cx="222.4" cy="293.3" r="2.65"/><circle cx="225.3" cy="293.3" r="2.65"/><circle cx="230.4" cy="292.6" r="2.65"/><circle cx="231.2" cy="295.5" r="2.65"/><circle cx="236.3" cy="299.9" r="2.65"/><circle cx="239.2" cy="299.2" r="2.65"/><circle cx="240.0" cy="305.3" r="2.65"/><circle cx="238.5" cy="309.0" r="2.65"/><circle cx="226.8" cy="306.5" r="2.65"/><circle cx="230.4" cy="309.0" r="2.65"/><circle cx="227.5" cy="310.9" r="2.65"/><circle cx="85.4" cy="275.1" r="2.65"/><circle cx="89.1" cy="273.0" r="2.65"/><circle cx="83.9" cy="278.6" r="2.65"/><circle cx="88.0" cy="279.5" r="2.65"/><circle cx="91.8" cy="276.9" r="2.65"/><circle cx="95.6" cy="273.7" r="2.65"/><circle cx="99.5" cy="272.5" r="2.65"/><circle cx="91.3" cy="282.8" r="2.65"/><circle cx="87.8" cy="284.7" r="2.65"/><circle cx="95.3" cy="281.2" r="2.65"/><circle cx="101.1" cy="269.8" r="2.65"/><circle cx="104.6" cy="269.6" r="2.65"/><circle cx="106.6" cy="268.0" r="2.65"/><circle cx="110.0" cy="271.2" r="2.65"/><circle cx="104.0" cy="275.2" r="2.65"/><circle cx="100.5" cy="276.8" r="2.65"/><circle cx="108.5" cy="273.6" r="2.65"/><circle cx="111.4" cy="273.3" r="2.65"/><circle cx="115.7" cy="272.4" r="2.65"/><circle cx="117.6" cy="275.3" r="2.65"/><circle cx="107.1" cy="278.4" r="2.65"/><circle cx="111.5" cy="279.2" r="2.65"/><circle cx="103.5" cy="280.8" r="2.65"/><circle cx="114.1" cy="277.7" r="2.65"/><circle cx="123.4" cy="270.2" r="2.65"/><circle cx="127.7" cy="271.2" r="2.65"/><circle cx="124.8" cy="268.6" r="2.65"/><circle cx="129.3" cy="273.2" r="2.65"/><circle cx="132.9" cy="272.8" r="2.65"/><circle cx="138.0" cy="270.7" r="2.65"/><circle cx="141.4" cy="273.5" r="2.65"/><circle cx="136.6" cy="275.9" r="2.65"/><circle cx="131.9" cy="276.9" r="2.65"/><circle cx="128.0" cy="277.8" r="2.65"/><circle cx="123.0" cy="278.5" r="2.65"/><circle cx="119.0" cy="279.2" r="2.65"/><circle cx="139.7" cy="279.7" r="2.65"/><circle cx="136.2" cy="281.0" r="2.65"/><circle cx="131.0" cy="282.3" r="2.65"/><circle cx="125.9" cy="281.9" r="2.65"/><circle cx="121.7" cy="281.9" r="2.65"/><circle cx="117.7" cy="283.8" r="2.65"/><circle cx="142.5" cy="279.0" r="2.65"/><circle cx="145.5" cy="283.3" r="2.65"/><circle cx="148.1" cy="278.1" r="2.65"/><circle cx="140.8" cy="285.9" r="2.65"/><circle cx="137.5" cy="287.1" r="2.65"/><circle cx="132.0" cy="286.2" r="2.65"/><circle cx="127.7" cy="287.1" r="2.65"/><circle cx="124.4" cy="286.5" r="2.65"/><circle cx="119.2" cy="287.2" r="2.65"/><circle cx="114.9" cy="286.4" r="2.65"/><circle cx="113.1" cy="283.5" r="2.65"/><circle cx="111.3" cy="288.2" r="2.65"/><circle cx="114.5" cy="291.6" r="2.65"/><circle cx="119.3" cy="292.4" r="2.65"/><circle cx="123.0" cy="291.7" r="2.65"/><circle cx="127.7" cy="290.1" r="2.65"/><circle cx="132.5" cy="291.4" r="2.65"/><circle cx="135.0" cy="293.9" r="2.65"/><circle cx="117.7" cy="296.3" r="2.65"/><circle cx="121.6" cy="296.1" r="2.65"/><circle cx="126.0" cy="294.5" r="2.65"/><circle cx="130.0" cy="295.3" r="2.65"/><circle cx="120.8" cy="299.5" r="2.65"/><circle cx="124.0" cy="299.1" r="2.65"/><circle cx="127.9" cy="299.5" r="2.65"/><circle cx="130.9" cy="299.1" r="2.65"/><circle cx="136.4" cy="296.6" r="2.65"/><circle cx="139.0" cy="295.6" r="2.65"/><circle cx="143.0" cy="294.6" r="2.65"/><circle cx="147.6" cy="296.8" r="2.65"/><circle cx="141.2" cy="299.7" r="2.65"/><circle cx="145.0" cy="299.0" r="2.65"/><circle cx="123.9" cy="303.7" r="2.65"/><circle cx="129.2" cy="302.9" r="2.65"/><circle cx="132.2" cy="303.0" r="2.65"/><circle cx="137.1" cy="300.9" r="2.65"/><circle cx="142.0" cy="303.2" r="2.65"/><circle cx="145.8" cy="306.3" r="2.65"/><circle cx="126.2" cy="307.7" r="2.65"/><circle cx="114.8" cy="295.0" r="2.65"/><circle cx="115.8" cy="280.4" r="2.65"/><circle cx="117.0" cy="289.6" r="2.65"/><circle cx="135.2" cy="284.7" r="2.65"/><circle cx="122.1" cy="288.6" r="2.65"/><circle cx="134.4" cy="288.3" r="2.65"/><circle cx="128.0" cy="284.2" r="2.65"/><circle cx="121.4" cy="285.3" r="2.65"/><circle cx="130.7" cy="289.1" r="2.65"/><circle cx="129.6" cy="292.4" r="2.65"/><circle cx="126.2" cy="301.9" r="2.65"/></g>
<rect x="38.8" y="191.45" width="280.60" height="171.45" fill="none" stroke="#4e4e4e" stroke-width="1.0"/>
<path d="M49.9 362.9v1.8 M61.4 362.9v3.0 M137.3 362.9v3.0 M181.7 362.9v1.8 M213.2 362.9v3.0 M237.7 362.9v1.8 M257.6 362.9v1.8 M274.5 362.9v1.8 M289.2 362.9v3.0 M302.1 362.9v1.8 M313.6 362.9v1.8 M38.8 362.9h-3.0 M38.8 343.9h-1.8 M38.8 330.5h-1.8 M38.8 320.0h-1.8 M38.8 311.5h-1.8 M38.8 304.3h-1.8 M38.8 298.0h-1.8 M38.8 292.5h-1.8 M38.8 287.6h-3.0 M38.8 255.2h-1.8 M38.8 236.2h-1.8 M38.8 222.8h-1.8 M38.8 212.3h-3.0 M38.8 203.8h-1.8 M38.8 196.6h-1.8" stroke="#4e4e4e" stroke-width="0.9" fill="none"/>
<text transform="translate(61.4,377.8) scale(1,1.1)" font-size="12.1" text-anchor="middle" >1</text>
<text transform="translate(137.3,377.8) scale(1,1.1)" font-size="12.1" text-anchor="middle" >2</text>
<text transform="translate(213.2,377.8) scale(1,1.1)" font-size="12.1" text-anchor="middle" >4</text>
<text transform="translate(289.2,377.8) scale(1,1.1)" font-size="12.1" text-anchor="middle" >8</text>
<text transform="translate(33.6,216.9) scale(1,1.1)" font-size="12.1" text-anchor="end" >5.0</text>
<text transform="translate(33.6,292.2) scale(1,1.1)" font-size="12.1" text-anchor="end" >1.0</text>
<text transform="translate(33.6,367.5) scale(1,1.1)" font-size="12.1" text-anchor="end" >0.2</text>
<text transform="translate(307.0,211.3) scale(1,1.1)" font-size="14.8" text-anchor="end" font-weight="bold" textLength="19.6" lengthAdjust="spacingAndGlyphs">(c)</text>
</g>
<g id="panel-d">
<line x1="441.2" y1="198.9" x2="610.7" y2="354.6" stroke="#828282" stroke-width="1.35" stroke-dasharray="4.4,1.9"/>
<g fill="#1a1a1a"><circle cx="416.9" cy="221.9" r="2.65"/><circle cx="428.6" cy="240.2" r="2.65"/><circle cx="432.6" cy="238.4" r="2.65"/><circle cx="444.3" cy="248.4" r="2.65"/><circle cx="436.9" cy="251.9" r="2.65"/><circle cx="486.0" cy="249.0" r="2.65"/><circle cx="501.4" cy="256.7" r="2.65"/><circle cx="481.6" cy="261.9" r="2.65"/><circle cx="489.9" cy="266.5" r="2.65"/><circle cx="447.9" cy="264.3" r="2.65"/><circle cx="423.3" cy="269.5" r="2.65"/><circle cx="430.8" cy="270.4" r="2.65"/><circle cx="433.3" cy="271.0" r="2.65"/><circle cx="440.6" cy="271.0" r="2.65"/><circle cx="443.8" cy="270.3" r="2.65"/><circle cx="460.4" cy="272.2" r="2.65"/><circle cx="469.4" cy="269.0" r="2.65"/><circle cx="467.0" cy="271.9" r="2.65"/><circle cx="472.1" cy="271.5" r="2.65"/><circle cx="494.0" cy="273.5" r="2.65"/><circle cx="503.5" cy="273.7" r="2.65"/><circle cx="466.2" cy="275.5" r="2.65"/><circle cx="456.0" cy="277.7" r="2.65"/><circle cx="460.8" cy="278.2" r="2.65"/><circle cx="431.8" cy="285.2" r="2.65"/><circle cx="439.9" cy="283.6" r="2.65"/><circle cx="467.7" cy="285.2" r="2.65"/><circle cx="461.1" cy="289.2" r="2.65"/><circle cx="459.3" cy="291.6" r="2.65"/><circle cx="463.3" cy="295.3" r="2.65"/><circle cx="470.9" cy="297.2" r="2.65"/><circle cx="495.5" cy="277.0" r="2.65"/><circle cx="490.4" cy="277.9" r="2.65"/><circle cx="486.0" cy="278.9" r="2.65"/><circle cx="480.9" cy="279.2" r="2.65"/><circle cx="477.2" cy="284.3" r="2.65"/><circle cx="479.4" cy="285.8" r="2.65"/><circle cx="485.3" cy="288.1" r="2.65"/><circle cx="488.2" cy="287.3" r="2.65"/><circle cx="495.5" cy="285.5" r="2.65"/><circle cx="482.0" cy="294.3" r="2.65"/><circle cx="498.9" cy="294.0" r="2.65"/><circle cx="479.7" cy="301.9" r="2.65"/><circle cx="480.9" cy="305.7" r="2.65"/><circle cx="485.7" cy="304.8" r="2.65"/><circle cx="501.4" cy="303.6" r="2.65"/><circle cx="504.3" cy="308.3" r="2.65"/><circle cx="578.6" cy="235.5" r="2.65"/><circle cx="549.6" cy="239.6" r="2.65"/><circle cx="555.2" cy="244.0" r="2.65"/><circle cx="534.0" cy="248.0" r="2.65"/><circle cx="583.3" cy="252.8" r="2.65"/><circle cx="529.1" cy="261.2" r="2.65"/><circle cx="580.1" cy="260.9" r="2.65"/><circle cx="583.3" cy="260.1" r="2.65"/><circle cx="573.1" cy="264.8" r="2.65"/><circle cx="539.7" cy="266.7" r="2.65"/><circle cx="543.3" cy="267.8" r="2.65"/><circle cx="549.9" cy="271.1" r="2.65"/><circle cx="555.2" cy="272.6" r="2.65"/><circle cx="561.8" cy="272.6" r="2.65"/><circle cx="568.2" cy="271.6" r="2.65"/><circle cx="566.8" cy="275.5" r="2.65"/><circle cx="567.9" cy="280.5" r="2.65"/><circle cx="578.2" cy="273.0" r="2.65"/><circle cx="580.1" cy="271.9" r="2.65"/><circle cx="549.9" cy="277.2" r="2.65"/><circle cx="541.6" cy="279.7" r="2.65"/><circle cx="543.8" cy="282.3" r="2.65"/><circle cx="530.3" cy="276.0" r="2.65"/><circle cx="506.9" cy="276.2" r="2.65"/><circle cx="505.7" cy="283.0" r="2.65"/><circle cx="593.8" cy="278.8" r="2.65"/><circle cx="511.3" cy="292.0" r="2.65"/><circle cx="535.0" cy="285.1" r="2.65"/><circle cx="529.9" cy="288.6" r="2.65"/><circle cx="546.0" cy="289.0" r="2.65"/><circle cx="541.6" cy="294.2" r="2.65"/><circle cx="521.1" cy="293.4" r="2.65"/><circle cx="524.7" cy="295.6" r="2.65"/><circle cx="528.8" cy="296.4" r="2.65"/><circle cx="520.1" cy="298.8" r="2.65"/><circle cx="533.8" cy="300.0" r="2.65"/><circle cx="567.9" cy="292.0" r="2.65"/><circle cx="573.1" cy="287.6" r="2.65"/><circle cx="578.9" cy="288.7" r="2.65"/><circle cx="578.2" cy="293.1" r="2.65"/><circle cx="565.7" cy="301.5" r="2.65"/><circle cx="584.8" cy="300.6" r="2.65"/><circle cx="567.9" cy="312.9" r="2.65"/><circle cx="579.4" cy="325.3" r="2.65"/><circle cx="593.8" cy="288.7" r="2.65"/><circle cx="593.2" cy="294.5" r="2.65"/><circle cx="593.2" cy="297.1" r="2.65"/><circle cx="593.8" cy="303.4" r="2.65"/><circle cx="593.2" cy="313.5" r="2.65"/><circle cx="601.6" cy="239.2" r="2.65"/><circle cx="597.8" cy="247.4" r="2.65"/><circle cx="599.0" cy="247.1" r="2.65"/><circle cx="611.4" cy="248.7" r="2.65"/><circle cx="599.1" cy="275.5" r="2.65"/><circle cx="619.1" cy="277.3" r="2.65"/><circle cx="622.4" cy="276.5" r="2.65"/><circle cx="631.9" cy="274.8" r="2.65"/><circle cx="634.2" cy="279.5" r="2.65"/><circle cx="610.1" cy="282.5" r="2.65"/><circle cx="670.8" cy="282.5" r="2.65"/><circle cx="600.5" cy="288.3" r="2.65"/><circle cx="605.2" cy="296.1" r="2.65"/><circle cx="613.3" cy="292.3" r="2.65"/><circle cx="624.6" cy="292.4" r="2.65"/><circle cx="631.6" cy="293.1" r="2.65"/><circle cx="633.8" cy="296.6" r="2.65"/><circle cx="638.5" cy="295.9" r="2.65"/><circle cx="612.6" cy="300.3" r="2.65"/><circle cx="620.2" cy="301.2" r="2.65"/><circle cx="613.3" cy="310.3" r="2.65"/><circle cx="632.8" cy="311.0" r="2.65"/><circle cx="638.5" cy="313.9" r="2.65"/><circle cx="645.5" cy="309.2" r="2.65"/><circle cx="655.0" cy="308.8" r="2.65"/><circle cx="655.0" cy="320.1" r="2.65"/><circle cx="645.5" cy="325.2" r="2.65"/><circle cx="671.8" cy="293.9" r="2.65"/><circle cx="671.8" cy="304.0" r="2.65"/><circle cx="671.8" cy="311.0" r="2.65"/><circle cx="671.8" cy="319.3" r="2.65"/><circle cx="667.0" cy="320.5" r="2.65"/></g>
<rect x="404.1" y="191.45" width="280.20" height="171.45" fill="none" stroke="#4e4e4e" stroke-width="1.0"/>
<path d="M409.7 362.9v3.0 M492.5 362.9v3.0 M540.9 362.9v1.8 M575.3 362.9v3.0 M601.9 362.9v1.8 M623.7 362.9v1.8 M642.1 362.9v1.8 M658.0 362.9v3.0 M672.1 362.9v1.8 M404.1 353.1h-3.0 M404.1 336.0h-1.8 M404.1 323.8h-1.8 M404.1 314.4h-1.8 M404.1 306.7h-1.8 M404.1 300.2h-1.8 M404.1 294.5h-1.8 M404.1 289.6h-1.8 M404.1 285.1h-3.0 M404.1 255.8h-1.8 M404.1 238.7h-1.8 M404.1 226.5h-1.8 M404.1 217.1h-3.0 M404.1 209.4h-1.8 M404.1 202.9h-1.8 M404.1 197.2h-1.8 M404.1 192.3h-1.8" stroke="#4e4e4e" stroke-width="0.9" fill="none"/>
<text transform="translate(409.7,377.8) scale(1,1.1)" font-size="12.1" text-anchor="middle" >1</text>
<text transform="translate(492.5,377.8) scale(1,1.1)" font-size="12.1" text-anchor="middle" >2</text>
<text transform="translate(575.3,377.8) scale(1,1.1)" font-size="12.1" text-anchor="middle" >4</text>
<text transform="translate(658.0,377.8) scale(1,1.1)" font-size="12.1" text-anchor="middle" >8</text>
<text transform="translate(398.9,221.7) scale(1,1.1)" font-size="12.1" text-anchor="end" >5.0</text>
<text transform="translate(398.9,289.7) scale(1,1.1)" font-size="12.1" text-anchor="end" >1.0</text>
<text transform="translate(398.9,357.7) scale(1,1.1)" font-size="12.1" text-anchor="end" >0.2</text>
<text transform="translate(671.9,211.3) scale(1,1.1)" font-size="14.8" text-anchor="end" font-weight="bold" textLength="19.6" lengthAdjust="spacingAndGlyphs">(d)</text>
</g>
<text transform="translate(10.9,86.0) rotate(-90) scale(1,1.1)" font-size="12.1" text-anchor="middle" textLength="160" lengthAdjust="spacingAndGlyphs">Resistance [10<tspan dy="-4.2" font-size="8.4">7</tspan><tspan dy="4.2"> dynes.s/cm</tspan><tspan dy="-4.2" font-size="8.4">5</tspan><tspan dy="4.2">]</tspan></text>
<text transform="translate(377.4,86.9) rotate(-90) scale(1,1.1)" font-size="12.1" text-anchor="middle" textLength="160" lengthAdjust="spacingAndGlyphs">Resistance [10<tspan dy="-4.2" font-size="8.4">7</tspan><tspan dy="4.2"> dynes.s/cm</tspan><tspan dy="-4.2" font-size="8.4">5</tspan><tspan dy="4.2">]</tspan></text>
<text transform="translate(10.9,277.5) rotate(-90) scale(1,1.1)" font-size="12.1" text-anchor="middle" textLength="160" lengthAdjust="spacingAndGlyphs">Resistance [10<tspan dy="-4.2" font-size="8.4">7</tspan><tspan dy="4.2"> dynes.s/cm</tspan><tspan dy="-4.2" font-size="8.4">5</tspan><tspan dy="4.2">]</tspan></text>
<text transform="translate(377.0,277.8) rotate(-90) scale(1,1.1)" font-size="12.1" text-anchor="middle" textLength="160" lengthAdjust="spacingAndGlyphs">Resistance [10<tspan dy="-4.2" font-size="8.4">7</tspan><tspan dy="4.2"> dynes.s/cm</tspan><tspan dy="-4.2" font-size="8.4">5</tspan><tspan dy="4.2">]</tspan></text>
<text transform="translate(178.9,393.6) scale(1,1.1)" font-size="12.1" text-anchor="middle" textLength="107.3" lengthAdjust="spacingAndGlyphs">Diameter [10<tspan dy="-4.2" font-size="8.4">−1</tspan><tspan dy="4.2"> cm]</tspan></text>
<text transform="translate(544.4,393.6) scale(1,1.1)" font-size="12.1" text-anchor="middle" textLength="107.3" lengthAdjust="spacingAndGlyphs">Diameter [10<tspan dy="-4.2" font-size="8.4">−1</tspan><tspan dy="4.2"> cm]</tspan></text>
<g id="legend">
<rect x="47.2" y="5.4" width="77" height="36" rx="2.2" ry="2.2" fill="#fff" stroke="#d4d4d4" stroke-width="0.9"/>
<line x1="51.9" y1="14" x2="73.9" y2="14" stroke="#999" stroke-width="1.2" stroke-dasharray="4.4,1.9"/>
<circle cx="62.9" cy="30.3" r="2.65" fill="#1a1a1a"/>
<text transform="translate(83.0,18.2) scale(1,1.1)" font-size="12.1" text-anchor="start" >Murray</text>
<text transform="translate(83.0,34.2) scale(1,1.1)" font-size="12.1" text-anchor="start" >MPI<tspan dy="2.4" font-size="9.2" font-style="italic">CT</tspan></text>
</g>
</svg></body></html>
